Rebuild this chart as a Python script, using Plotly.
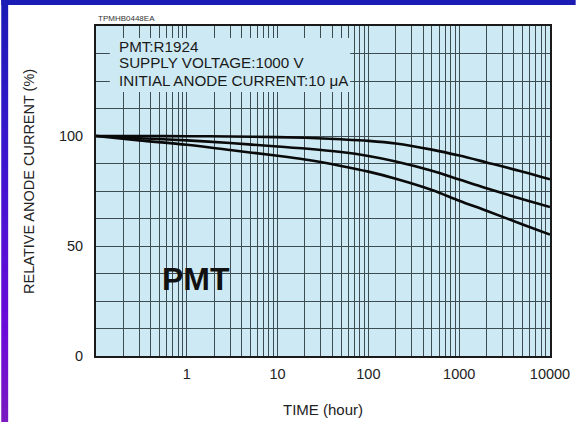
import plotly.graph_objects as go

# ---- data ----
time_h = [0.1, 0.3, 1, 3, 10, 20, 50, 100, 200, 500, 1000, 2000, 5000, 10000]
curve_top = [100, 100, 99.9, 99.8, 99.5, 99.2, 98.5, 97.8, 96.6, 93.8, 91.1, 88.0, 83.8, 80.3]
curve_mid = [100, 99.0, 98.0, 96.8, 95.2, 94.3, 92.7, 90.9, 88.4, 84.2, 80.2, 76.2, 71.3, 67.7]
curve_low = [100, 98.0, 96.0, 93.6, 91.0, 89.3, 86.4, 83.8, 80.6, 75.5, 70.6, 66.0, 59.8, 55.2]

x_grid_vals = [m * 10 ** e for e in range(-1, 4) for m in range(1, 10)] + [10000]
x_tick_labels = {1: "1", 10: "10", 100: "100", 1000: "1000", 10000: "10000"}
y_tick_vals = [0, 50, 100]

info_lines = ["PMT:R1924", "SUPPLY VOLTAGE:1000 V", "INITIAL ANODE CURRENT:10 \u03bcA"]

# ---- layout geometry ----
W, H = 582, 422
L, R, T, B = 96, 26, 26, 66
PW, PH = W - L - R, H - T - B


def px2x(px):
    return (px - L) / PW


def px2y(py):
    return (H - B - py) / PH


FONT = "Liberation Sans, Arial, sans-serif"
PLOT_BG = "#cde9f3"
GRID = "#3c4c51"

fig = go.Figure()
for ys in (curve_top, curve_mid, curve_low):
    fig.add_trace(go.Scatter(x=time_h, y=ys, mode="lines",
                             line=dict(color="#0a0a0a", width=2.6, shape="spline", smoothing=0.9),
                             showlegend=False, hoverinfo="skip"))

shapes = []
# top blue band
shapes.append(dict(type="rect", xref="paper", yref="paper", x0=px2x(0), x1=px2x(W),
                   y0=px2y(5), y1=px2y(0), fillcolor="#1b1bb5", line=dict(width=0), layer="below"))
# left gradient strip
stops = [(0, (27, 27, 181)), (150, (58, 22, 205)), (330, (108, 10, 216)), (422, (122, 26, 192))]


def col_at(py):
    for (a, ca), (b, cb) in zip(stops[:-1], stops[1:]):
        if a <= py <= b:
            f = (py - a) / (b - a)
            return "rgb(%d,%d,%d)" % tuple(round(ca[i] + f * (cb[i] - ca[i])) for i in range(3))
    return "rgb(%d,%d,%d)" % stops[-1][1]


step = 6
for py in range(0, H, step):
    shapes.append(dict(type="rect", xref="paper", yref="paper", x0=px2x(0), x1=px2x(7),
                       y0=px2y(min(py + step, H)), y1=px2y(py), fillcolor=col_at(py + step / 2),
                       line=dict(width=0), layer="below"))
# info box hiding the grid
shapes.append(dict(type="rect", xref="x", yref="y", x0=0.142, x1=63, y0=120, y1=144.5,
                   fillcolor=PLOT_BG, line=dict(width=0), layer="between"))

annotations = []
for i, txt in enumerate(info_lines):
    annotations.append(dict(text=txt, xref="paper", yref="paper", x=px2x(117),
                            y=px2y([47, 63, 80][i]), xanchor="left", yanchor="middle",
                            showarrow=False, font=dict(family=FONT, size=15.2, color="#1a1a1a")))
annotations.append(dict(text="PMT", xref="paper", yref="paper", x=px2x(197), y=px2y(279),
                        xanchor="center", yanchor="middle", showarrow=False,
                        font=dict(family=FONT, size=32, color="#111111", weight="bold")))
annotations.append(dict(text="TPMHB0448EA", xref="paper", yref="paper", x=px2x(96), y=px2y(18),
                        xanchor="left", yanchor="middle", showarrow=False,
                        font=dict(family=FONT, size=8, color="#333333")))
annotations.append(dict(text="RELATIVE ANODE CURRENT (%)", xref="paper", yref="paper",
                        x=px2x(28), y=px2y(181), xanchor="center", yanchor="middle", textangle=-90,
                        showarrow=False, font=dict(family=FONT, size=14.5, color="#222222")))
annotations.append(dict(text="TIME (hour)", xref="paper", yref="paper",
                        x=px2x(326), y=px2y(409), xanchor="center", yanchor="middle",
                        showarrow=False, font=dict(family=FONT, size=15, color="#222222")))

fig.update_layout(
    width=W, height=H,
    margin=dict(l=L, r=R, t=T, b=B),
    paper_bgcolor="white", plot_bgcolor=PLOT_BG,
    shapes=shapes, annotations=annotations,
    xaxis=dict(type="log", range=[-1, 4], tickmode="array", tickvals=x_grid_vals,
               ticktext=[x_tick_labels.get(v, "") for v in x_grid_vals],
               showgrid=True, gridcolor=GRID, gridwidth=1, ticks="",
               showline=True, mirror=True, linecolor="#1a1a1a", linewidth=2,
               zeroline=False, tickfont=dict(family=FONT, size=14.5, color="#222222"),
               ticklabelstandoff=4),
    yaxis=dict(range=[0, 150], tickmode="array", tickvals=y_tick_vals,
               showgrid=False, ticks="",
               minor=dict(tick0=0, dtick=12.5, showgrid=True, gridcolor=GRID, gridwidth=1, ticks=""),
               showline=True, mirror=True, linecolor="#1a1a1a", linewidth=2,
               zeroline=False, tickfont=dict(family=FONT, size=14.5, color="#222222"),
               ticklabelstandoff=8),
)

fig.write_html("out.html")
